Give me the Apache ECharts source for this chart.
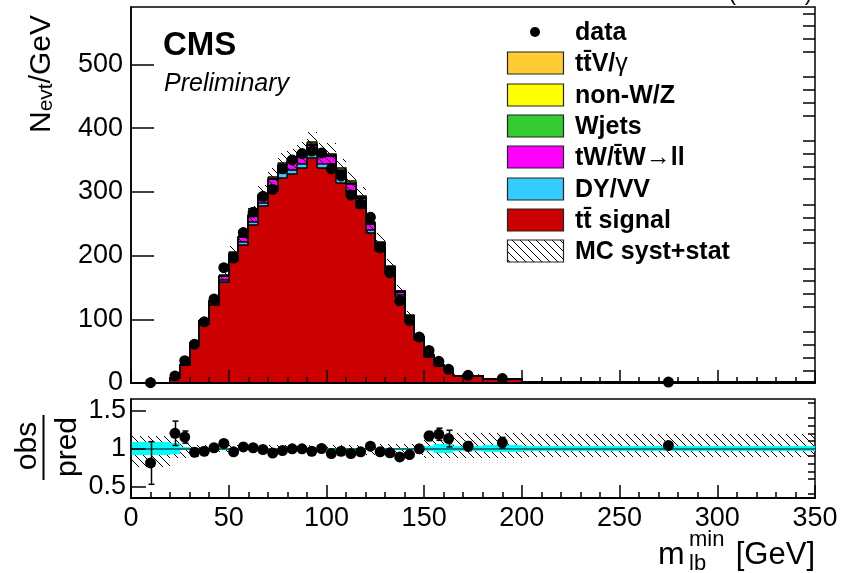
<!DOCTYPE html>
<html>
<head>
<meta charset="utf-8">
<script src="https://cdn.jsdelivr.net/npm/echarts@6/dist/echarts.min.js"></script>
<style>
html, body { margin: 0; padding: 0; background: #fff; }
#chart { width: 856px; height: 573px; }
</style>
</head>
<body>
<div id="chart"></div>
<script>
// bin edges in GeV (variable binning)
const binEdges = [0, 20, 25, 30, 35, 40, 45, 50, 55, 60, 65, 70, 75, 80, 85, 90, 95, 100,
  105, 110, 115, 120, 125, 130, 135, 140, 145, 150, 155, 160, 165, 180, 200, 350];

// events / GeV
const dataVals = [0.5, 11, 35, 61, 96, 132, 181, 196, 236, 268, 293, 304, 336, 350, 360, 364, 361,
  336, 325, 295, 281, 260, 212, 173, 129, 98, 72, 51, 34, 21.5, 12, 7, 1.5];

// MC stack, from bottom to top
const signalVals = [0.52, 8.6, 28.4, 60.0, 92.9, 122.0, 158.2, 191.3, 215.9, 247.5, 277.0, 301.7, 322.2,
  327.8, 337.2, 352.3, 336.8, 335.9, 314.6, 295.1, 274.1, 235.5, 206.9, 171.1, 135.2, 99.4, 67.5, 40.9,
  26.7, 17.6, 10.9, 6.1, 1.35];
const dyVals = [0.05, 0.2, 0.6, 1.3, 2.0, 2.6, 3.4, 4.1, 4.6, 5.3, 5.9, 6.5, 6.9, 7.0, 7.2, 7.6, 7.2, 7.2,
  6.7, 6.3, 5.9, 5.0, 4.4, 3.7, 2.9, 2.1, 1.4, 0.9, 0.6, 0.4, 0.2, 0.1, 0.03];
const twVals = [0.02, 0.3, 1.1, 2.2, 3.5, 4.6, 5.9, 7.2, 8.1, 9.3, 10.4, 11.3, 12.1, 12.3, 12.6, 13.2, 12.6,
  12.6, 11.8, 11.1, 10.3, 8.8, 7.8, 6.4, 5.1, 3.7, 2.5, 1.5, 1.0, 0.7, 0.4, 0.2, 0.05];
const wjetsVals = [0, 0.01, 0.03, 0.06, 0.1, 0.1, 0.2, 0.2, 0.2, 0.3, 0.3, 0.3, 0.3, 0.4, 0.4, 0.4, 0.4,
  0.4, 0.3, 0.3, 0.3, 0.3, 0.2, 0.2, 0.1, 0.1, 0.1, 0.04, 0.03, 0.02, 0.01, 0.01, 0];
const nonwzVals = [0.01, 0.03, 0.1, 0.2, 0.3, 0.4, 0.5, 0.6, 0.7, 0.8, 0.9, 1.0, 1.0, 1.1, 1.1, 1.1, 1.1,
  1.1, 1.0, 0.9, 0.9, 0.8, 0.7, 0.6, 0.4, 0.3, 0.2, 0.1, 0.1, 0.06, 0.04, 0.02, 0];
const ttvVals = [0, 0.1, 0.2, 0.5, 0.8, 1.0, 1.4, 1.6, 1.9, 2.1, 2.4, 2.6, 2.8, 2.8, 2.9, 3.0, 2.9, 2.9,
  2.7, 2.5, 2.4, 2.0, 1.8, 1.5, 1.2, 0.9, 0.6, 0.4, 0.2, 0.2, 0.1, 0.05, 0.01];

// ratio panel: obs/pred points and their errors
const ratioVals = [0.81, 1.2, 1.15, 0.95, 0.964, 1.01, 1.067, 0.956, 1.02, 1.01, 0.987, 0.94, 0.973, 0.996,
  0.996, 0.964, 1.0, 0.933, 0.964, 0.933, 0.956, 1.03, 0.956, 0.943, 0.89, 0.92, 0.996, 1.164, 1.187, 1.13,
  1.03, 1.076, 1.04];
const ratioErr = [0.28, 0.16, 0.08, 0.05, 0.04, 0.035, 0.03, 0.03, 0.03, 0.025, 0.025, 0.025, 0.025, 0.025,
  0.025, 0.025, 0.025, 0.025, 0.025, 0.025, 0.025, 0.03, 0.03, 0.03, 0.035, 0.04, 0.05, 0.06, 0.08, 0.11,
  0.06, 0.07, 0.04];
// MC syst+stat band (ratio edges)
const systHi = [1.16, 1.13, 1.1, 1.05, 1.045, 1.045, 1.045, 1.045, 1.045, 1.045, 1.045, 1.045, 1.045, 1.045,
  1.045, 1.045, 1.045, 1.045, 1.045, 1.045, 1.045, 1.06, 1.06, 1.06, 1.06, 1.06, 1.06, 1.2, 1.2, 1.2, 1.2,
  1.2, 1.19];
const systLo = [0.76, 0.88, 0.88, 0.94, 0.955, 0.955, 0.955, 0.955, 0.955, 0.955, 0.955, 0.955, 0.955, 0.955,
  0.955, 0.955, 0.955, 0.95, 0.95, 0.95, 0.95, 0.92, 0.92, 0.92, 0.92, 0.92, 0.92, 0.88, 0.88, 0.88, 0.88,
  0.88, 0.89];
// cyan band half width
const statErr = [0.08, 0.07, 0.02, 0.008, 0.006, 0.006, 0.006, 0.006, 0.006, 0.006, 0.006, 0.006, 0.006,
  0.006, 0.006, 0.006, 0.006, 0.006, 0.006, 0.006, 0.006, 0.008, 0.008, 0.008, 0.008, 0.01, 0.01, 0.037,
  0.06, 0.06, 0.03, 0.046, 0.033];

const xTicks = [0, 50, 100, 150, 200, 250, 300, 350];
const yTicks = [0, 100, 200, 300, 400, 500];
const yMinorTicks = [20, 40, 60, 80, 120, 140, 160, 180, 220, 240, 260, 280, 320, 340, 360, 380,
  420, 440, 460, 480, 520, 540, 560, 580];
const rTicks = [0.5, 1, 1.5];
const rMinorTicks = [0.4, 0.6, 0.7, 0.8, 0.9, 1.1, 1.2, 1.3, 1.4, 1.6];

const FONT = '"Liberation Sans", Arial, Helvetica, sans-serif';
const nBins = binEdges.length - 1;

// hatch pattern like ROOT 3354
function makeHatch() {
  const s = 8;
  const c = document.createElement('canvas');
  c.width = s; c.height = s;
  const ctx = c.getContext('2d');
  ctx.strokeStyle = '#000';
  ctx.lineWidth = 1;
  ctx.beginPath();
  [-s, 0, s].forEach(k => { ctx.moveTo(k, 0); ctx.lineTo(k + s, s); });
  ctx.stroke();
  return { image: c, repeat: 'repeat' };
}
const hatch = makeHatch();

const comps = [
  { vals: signalVals, color: '#cc0000' },
  { vals: dyVals, color: '#33ccff' },
  { vals: twVals, color: '#ff00ff' },
  { vals: wjetsVals, color: '#33cc33' },
  { vals: nonwzVals, color: '#ffff00' },
  { vals: ttvVals, color: '#ffcc33' }
];

function boxRenderer(fill) {
  return function (params, api) {
    const a = api.coord([api.value(0), api.value(3)]);
    const b = api.coord([api.value(1), api.value(2)]);
    const x0 = Math.round(a[0]), x1 = Math.round(b[0]);
    const y0 = Math.round(a[1]), y1 = Math.round(b[1]);
    return {
      type: 'rect',
      shape: { x: x0, y: y0, width: x1 - x0, height: y1 - y0 },
      style: { fill: fill }
    };
  };
}

function outlineRenderer(tops, bases) {
  return function (params, api) {
    const i = params.dataIndex;
    const a = api.coord([binEdges[i], tops[i]]);
    const b = api.coord([binEdges[i + 1], bases[i]]);
    const x0 = Math.round(a[0]), x1 = Math.round(b[0]);
    const yT = Math.round(a[1]), yB = Math.round(b[1]);
    const nextTop = i + 1 < nBins ? tops[i + 1] : bases[i];
    const yN = Math.round(api.coord([binEdges[i + 1], nextTop])[1]);
    const pts = [[x0, yT], [x1, yT], [x1, yN]];
    if (i === 0) pts.unshift([x0, yB]);
    return {
      type: 'polyline',
      shape: { points: pts },
      style: { stroke: '#000', lineWidth: 1.3, fill: null }
    };
  };
}

const series = [];
let base = new Array(nBins).fill(0);
comps.forEach(c => {
  const bases = base.slice();
  const tops = bases.map((v, i) => v + c.vals[i]);
  const rows = tops.map((t, i) => [binEdges[i], binEdges[i + 1], bases[i], t]);
  series.push({
    type: 'custom', xAxisIndex: 0, yAxisIndex: 0, z: 2, silent: true,
    renderItem: boxRenderer(c.color), data: rows
  });
  series.push({
    type: 'custom', xAxisIndex: 0, yAxisIndex: 0, z: 3, silent: true,
    renderItem: outlineRenderer(tops, bases), data: rows
  });
  base = tops;
});
const mcTotal = base;

// MC uncertainty band on main panel
series.push({
  type: 'custom', xAxisIndex: 0, yAxisIndex: 0, z: 4, silent: true,
  renderItem: boxRenderer(hatch),
  data: mcTotal.map((t, i) => [binEdges[i], binEdges[i + 1], t * systLo[i], t * systHi[i]])
});

const centers = dataVals.map((v, i) => (binEdges[i] + binEdges[i + 1]) / 2);

series.push({
  type: 'scatter', xAxisIndex: 0, yAxisIndex: 0, z: 5, silent: true,
  symbol: 'circle', symbolSize: 11,
  itemStyle: { color: '#000', opacity: 1 },
  data: dataVals.map((v, i) => [centers[i], v])
});

// ratio panel
series.push({
  type: 'custom', xAxisIndex: 1, yAxisIndex: 2, z: 2, silent: true,
  renderItem: boxRenderer(hatch),
  data: systHi.map((h, i) => [binEdges[i], binEdges[i + 1], systLo[i], h])
});
series.push({
  type: 'custom', xAxisIndex: 1, yAxisIndex: 2, z: 3, silent: true,
  renderItem: boxRenderer('#00ffff'),
  data: statErr.map((e, i) => [binEdges[i], binEdges[i + 1], 1 - e, 1 + e])
});
// reference line at 1
series.push({
  type: 'custom', xAxisIndex: 1, yAxisIndex: 2, z: 4, silent: true,
  renderItem: function (params, api) {
    const a = api.coord([api.value(0), api.value(2)]);
    const b = api.coord([api.value(1), api.value(2)]);
    return {
      type: 'line',
      shape: { x1: a[0], y1: Math.round(a[1]), x2: b[0], y2: Math.round(b[1]) },
      style: { stroke: '#008080', lineWidth: 2 }
    };
  },
  data: [[0, 350, 1]]
});
series.push({
  type: 'custom', xAxisIndex: 1, yAxisIndex: 2, z: 5, silent: true,
  renderItem: function (params, api) {
    const x = api.value(0), y = api.value(1), e = api.value(2);
    const top = api.coord([x, y + e]);
    const bot = api.coord([x, y - e]);
    const cx = Math.round(top[0]) + 0.5;
    const st = { stroke: '#000', lineWidth: 1.5 };
    return {
      type: 'group',
      children: [
        { type: 'line', shape: { x1: cx, y1: top[1], x2: cx, y2: bot[1] }, style: st },
        { type: 'line', shape: { x1: cx - 3, y1: top[1], x2: cx + 3, y2: top[1] }, style: st },
        { type: 'line', shape: { x1: cx - 3, y1: bot[1], x2: cx + 3, y2: bot[1] }, style: st }
      ]
    };
  },
  data: ratioVals.map((r, i) => [centers[i], r, ratioErr[i]])
});
series.push({
  type: 'scatter', xAxisIndex: 1, yAxisIndex: 2, z: 6, silent: true,
  symbol: 'circle', symbolSize: 11,
  itemStyle: { color: '#000', opacity: 1 },
  data: ratioVals.map((r, i) => [centers[i], r])
});

const tickLine = { color: '#000', width: 1.5 };

function xAxisDef(grid, showLabels) {
  return {
    type: 'value', gridIndex: grid, min: 0, max: 350, interval: 50, z: 10,
    axisLine: { show: true, onZero: false, lineStyle: { color: '#000', width: 2 } },
    axisTick: { show: true, inside: true, length: 13, lineStyle: tickLine },
    minorTick: { show: true, splitNumber: 5, length: 6, lineStyle: tickLine },
    axisLabel: {
      show: showLabels, customValues: xTicks, fontSize: 27, color: '#000',
      fontFamily: FONT, margin: 7
    },
    splitLine: { show: false }, minorSplitLine: { show: false }
  };
}

function yAxisDef(grid, min, max, ticks, len, labels, margin) {
  return {
    type: 'value', gridIndex: grid, min: min, max: max, z: 10,
    axisLine: { show: !!labels, onZero: false, lineStyle: tickLine },
    axisTick: { show: true, inside: true, length: len, customValues: ticks, lineStyle: tickLine },
    axisLabel: {
      show: !!labels, customValues: ticks, fontSize: 27, color: '#000',
      fontFamily: FONT, margin: margin, formatter: v => String(v)
    },
    splitLine: { show: false }
  };
}

// graphic: texts, legend, axis titles
const graphics = [];
function txt(x, y, text, size, extra) {
  return {
    type: 'text', x: x, y: y, z: 100, silent: true,
    style: Object.assign({
      text: text, fontSize: size, fontFamily: FONT, fill: '#000',
      align: 'left', verticalAlign: 'middle'
    }, extra || {})
  };
}

graphics.push(txt(163, 46, 'CMS', 33, { fontWeight: 'bold' }));
graphics.push(txt(164, 84, 'Preliminary', 25, { fontStyle: 'italic' }));
graphics.push(txt(812, -6, '35.9 fb\u207B\u00B9 (13 TeV)', 22, { align: 'right' }));

// legend
const legendRows = [32, 63, 95, 126, 157, 189, 220, 251];
const legendItems = [
  { text: '{b|data}', kind: 'dot' },
  { text: '{b|tt\u0304V/}{g|\u03b3}', color: '#ffcc33' },
  { text: '{b|non-W/Z}', color: '#ffff00' },
  { text: '{b|Wjets}', color: '#33cc33' },
  { text: '{b|tW/t\u0304W}{g|\u2192}{b|ll}', color: '#ff00ff' },
  { text: '{b|DY/VV}', color: '#33ccff' },
  { text: '{b|tt\u0304 signal}', color: '#cc0000' },
  { text: '{b|MC syst+stat}', color: hatch }
];
const richLegend = {
  b: { fontSize: 25, fontWeight: 'bold', fontFamily: FONT, fill: '#000' },
  g: { fontSize: 25, fontWeight: 'normal', fontFamily: FONT, fill: '#000' }
};
legendItems.forEach((it, k) => {
  const yc = legendRows[k];
  if (it.kind === 'dot') {
    graphics.push({ type: 'circle', z: 100, silent: true, shape: { cx: 535, cy: yc, r: 5 }, style: { fill: '#000' } });
  } else {
    graphics.push({
      type: 'rect', z: 100, silent: true,
      shape: { x: 507.5, y: yc - 11, width: 56, height: 22 },
      style: { fill: it.color, stroke: '#222', lineWidth: 1.2 }
    });
  }
  graphics.push(txt(575, yc + 1, it.text, 25, { rich: richLegend }));
});

// y title N_evt/GeV (rotated)
graphics.push({
  type: 'text', x: 42, y: 133, rotation: Math.PI / 2, z: 100, silent: true,
  style: {
    text: '{n|N}{s|evt}{n|/GeV}', align: 'left', verticalAlign: 'middle',
    rich: {
      n: { fontSize: 30, fontFamily: FONT, fill: '#000', lineHeight: 30, verticalAlign: 'bottom' },
      s: { fontSize: 21, fontFamily: FONT, fill: '#000', lineHeight: 8, verticalAlign: 'bottom' }
    }
  }
});

// ratio title obs/pred
graphics.push({ type: 'text', x: 28, y: 446, rotation: Math.PI / 2, z: 100, silent: true,
  style: { text: 'obs', fontSize: 30, fontFamily: FONT, fill: '#000', align: 'center', verticalAlign: 'middle' } });
graphics.push({ type: 'text', x: 68, y: 447, rotation: Math.PI / 2, z: 100, silent: true,
  style: { text: 'pred', fontSize: 30, fontFamily: FONT, fill: '#000', align: 'center', verticalAlign: 'middle' } });
graphics.push({ type: 'line', z: 100, silent: true, shape: { x1: 43.5, y1: 415, x2: 43.5, y2: 480 },
  style: { stroke: '#000', lineWidth: 2 } });

// x title m_lb^min [GeV]
graphics.push(txt(658, 555, 'm', 32));
graphics.push(txt(689, 540, 'min', 22));
graphics.push(txt(689, 564, 'lb', 22));
graphics.push(txt(815, 555, '[GeV]', 31, { align: 'right' }));

const option = {
  animation: false,
  backgroundColor: '#fff',
  textStyle: { fontFamily: FONT },
  grid: [
    { left: 131, top: 7, width: 684, height: 376, show: true, borderColor: '#000', borderWidth: 1.5,
      backgroundColor: 'transparent', containLabel: false, outerBoundsMode: 'none' },
    { left: 131, top: 399, width: 684, height: 99, show: true, borderColor: '#000', borderWidth: 1.5,
      backgroundColor: 'transparent', containLabel: false, outerBoundsMode: 'none' }
  ],
  xAxis: [xAxisDef(0, false), xAxisDef(1, true)],
  yAxis: [
    yAxisDef(0, 0, 590, yTicks, 23, true, 8),
    yAxisDef(0, 0, 590, yMinorTicks, 12, false, 8),
    yAxisDef(1, 0.35, 1.65, rTicks, 15, true, 5),
    yAxisDef(1, 0.35, 1.65, rMinorTicks, 7, false, 5)
  ],
  series: series,
  graphic: { elements: graphics }
};

const chart = echarts.init(document.getElementById('chart'), null, { renderer: 'canvas' });
chart.setOption(option);
</script>
</body>
</html>
